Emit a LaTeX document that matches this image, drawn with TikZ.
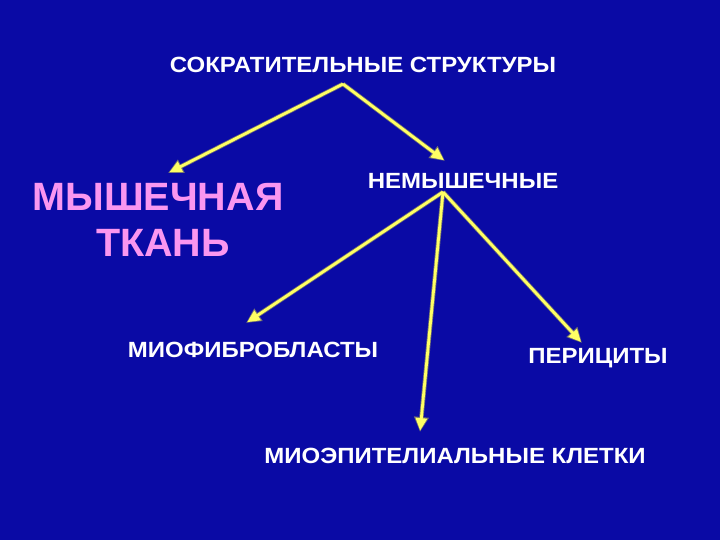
\documentclass[tikz,border=0pt]{standalone}
\usepackage{fontspec}
\usepackage{graphicx}
\setmainfont{Liberation Sans}
\usetikzlibrary{arrows.meta}
\definecolor{bg}{RGB}{10,10,165}
\definecolor{arrowyellow}{RGB}{255,255,100}
\definecolor{tissuepink}{RGB}{250,150,240}
\newcommand{\widetxt}[1]{\scalebox{1.09}[1]{#1}}
\tikzset{
  lbl/.style={anchor=base, text=white, font=\fontsize{22}{26}\selectfont\bfseries, inner sep=0pt},
  biglbl/.style={anchor=base, text=tissuepink, font=\fontsize{39.5}{45}\selectfont\bfseries, inner sep=0pt},
  arrowback/.style={draw=black!55, line width=4.4pt, -{Triangle[length=15pt,width=14pt]}},
  arrowfront/.style={draw=arrowyellow, line width=2.8pt, shorten >=1.4pt, -{Triangle[length=12.5pt,width=11pt]}},
}
\begin{document}
\begin{tikzpicture}[x=1pt,y=-1pt]
\fill[bg] (0,0) rectangle (720,540);
\useasboundingbox (0,0) rectangle (720,540);

\node[lbl] (title) at (363,73) {\widetxt{СОКРАТИТЕЛЬНЫЕ СТРУКТУРЫ}};
\node[lbl] (nonmuscle) at (463,189) {\widetxt{НЕМЫШЕЧНЫЕ}};
\node[biglbl] (muscle1) at (158,211) {МЫШЕЧНАЯ};
\node[biglbl] (muscle2) at (163,256) {ТКАНЬ};
\node[lbl] (myofib) at (253,357) {\widetxt{МИОФИБРОБЛАСТЫ}};
\node[lbl] (peri) at (598,363) {\widetxt{ПЕРИЦИТЫ}};
\node[lbl] (myoep) at (455,463) {\widetxt{МИОЭПИТЕЛИАЛЬНЫЕ КЛЕТКИ}};

\coordinate (s1) at (343,84);
\coordinate (s2) at (443,192);
\coordinate (tMuscle) at (168,173);
\coordinate (tNon) at (445,161);
\coordinate (tMyofib) at (246,323);
\coordinate (tMyoep) at (420,432);
\coordinate (tPeri) at (582,343);

\foreach \a/\b in {s1/tMuscle, s1/tNon, s2/tMyofib, s2/tMyoep, s2/tPeri}{
  \draw[arrowback] (\a) -- (\b);
}
\foreach \a/\b in {s1/tMuscle, s1/tNon, s2/tMyofib, s2/tMyoep, s2/tPeri}{
  \draw[arrowfront] (\a) -- (\b);
}
\end{tikzpicture}
\end{document}
